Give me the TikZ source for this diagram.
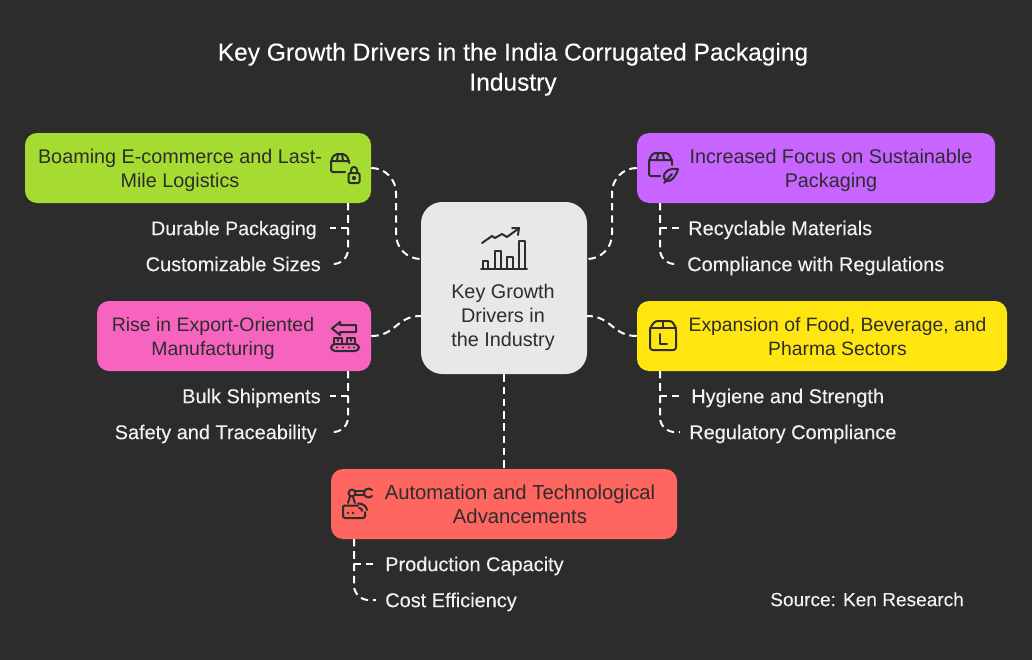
\documentclass[tikz,border=0pt]{standalone}
\usepackage{fontspec}
\setmainfont{Liberation Sans}
\newfontfamily\medfont[FakeBold=0.12]{Liberation Sans}
\definecolor{bg}{HTML}{2C2C2C}
\definecolor{ink}{HTML}{2D2D2D}
\definecolor{pale}{HTML}{F2F2F2}
\definecolor{cgreen}{HTML}{A6DC32}
\definecolor{cpurple}{HTML}{C864FF}
\definecolor{cpink}{HTML}{F764C0}
\definecolor{cyellow}{HTML}{FFE610}
\definecolor{cred}{HTML}{FF6660}
\definecolor{ccenter}{HTML}{E8E8E8}
\tikzset{
  sz/.style 2 args={minimum width=#1*0.75pt,minimum height=#2*0.75pt},
  card/.style={rectangle,rounded corners=9pt,inner sep=0pt},
  hub/.style={rectangle,rounded corners=16pt,inner sep=0pt,fill=ccenter},
  cardtext/.style={text=ink,align=center,inner sep=0pt,font=\fontsize{14.85}{18}\selectfont,text height=10.7pt,text depth=0pt},
  leaf/.style={text=pale,inner ysep=0pt,inner xsep=6.75pt,font=\medfont\fontsize{14.95}{18}\selectfont,text height=10.7pt,text depth=0pt},
  leafl/.style={leaf,anchor=east},
  leafr/.style={leaf,anchor=west},
  titletext/.style={text=white,align=center,inner sep=0pt,font=\medfont\fontsize{18.4}{22.5}\selectfont,text height=12.9pt,text depth=0pt},
  conn/.style={draw=white,line width=1.5pt,dash pattern=on 5.6pt off 3.6pt},
  trunk/.style={conn,rounded corners=11pt},
  ico/.style={draw=ink,line width=1.5pt,line cap=round,line join=round},
}
\begin{document}
\begin{tikzpicture}[x=0.75pt,y=-0.75pt]
\useasboundingbox[fill=bg] (0,0) rectangle (1032,660);
\node[titletext] (title) at (513,82) {Key Growth Drivers in the India Corrugated Packaging\\Industry};

\node[hub,sz={166}{172}] (hubnode) at (504,288) {};
\node[card,fill=cgreen,sz={346}{70}] (green) at (198,168) {};
\node[card,fill=cpurple,sz={358}{70}] (purple) at (816,168) {};
\node[card,fill=cpink,sz={274}{70}] (pink) at (234,336) {};
\node[card,fill=cyellow,sz={370}{70}] (yellow) at (822,336) {};
\node[card,fill=cred,sz={346}{70}] (red) at (504,504) {};

\node[cardtext] (hubt) at (503,339) {Key Growth\\Drivers in\\the Industry};
\node[cardtext] (greent) at (180,180) {Boaming E-commerce and Last-\\Mile Logistics};
\node[cardtext] (purplet) at (831,180) {Increased Focus on Sustainable\\Packaging};
\node[cardtext,font=\fontsize{14.6}{18}\selectfont] (pinkt) at (213,348) {Rise in Export-Oriented\\Manufacturing};
\node[cardtext,font=\fontsize{14.5}{18}\selectfont] (yellowt) at (837.5,348) {Expansion of Food, Beverage, and\\Pharma Sectors};
\node[cardtext,font=\fontsize{15.2}{18}\selectfont] (redt) at (520,516) {Automation and Technological\\Advancements};

\node[leafl,inner xsep=9.75pt,font=\medfont\fontsize{14.7}{18}\selectfont] (l1) at (330,228) {Durable Packaging};
\node[leafl] (l2) at (330,264) {Customizable Sizes};
\node[leafl] (l3) at (330,396) {Bulk Shipments};
\node[leafl,inner xsep=9.75pt] (l4) at (330,432) {Safety and Traceability};
\node[leafr] (r1) at (679,228) {Recyclable Materials};
\node[leafr] (r2) at (678,264) {Compliance with Regulations};
\node[leafr] (r3) at (682,396) {Hygiene and Strength};
\node[leafr] (r4) at (680,432) {Regulatory Compliance};
\node[leafr] (b1) at (376,564) {Production Capacity};
\node[leafr] (b2) at (376,600) {Cost Efficiency};
\node[leafr,inner xsep=0pt,font=\medfont\fontsize{14.3}{18}\selectfont] (source) at (770,599) {Source: Ken Research};

\coordinate (hgl) at (421,259);
\coordinate (hgr) at (587,259);
\coordinate (hpl) at (421,316);
\coordinate (hpr) at (587,316);
\coordinate (tgreen) at (348,203);
\coordinate (tpink) at (348,371);
\coordinate (tpurple) at (660,203);
\coordinate (tyellow) at (660,371);
\coordinate (tred) at (354,539);

\draw[conn] (green.east) .. controls (385,168) and (396,179) .. (396,193) -- (396,234) .. controls (396,248) and (407,259) .. (hgl);
\draw[conn] (purple.west) .. controls (623,168) and (612,179) .. (612,193) -- (612,234) .. controls (612,248) and (601,259) .. (hgr);
\draw[conn] (pink.east) .. controls (396,336) and (396,316) .. (hpl);
\draw[conn] (yellow.west) .. controls (612,336) and (612,316) .. (hpr);
\draw[conn] (hubnode.south) -- (red.north);

\draw[conn] (tgreen) |- (l1.east);
\draw[trunk] (tgreen) |- (l2.east);
\draw[conn] (tpink) |- (l3.east);
\draw[trunk] (tpink) |- (l4.east);
\draw[conn] (tpurple) |- (r1.west);
\draw[trunk] (tpurple) |- (r2.west);
\draw[conn] (tyellow) |- (r3.west);
\draw[trunk] (tyellow) |- (r4.west);
\draw[conn] (tred) |- (b1.west);
\draw[trunk] (tred) |- (b2.west);

% hub chart
\draw[ico] (481,269) -- (527,269);
\draw[ico] (483,269) -- (483,261) -- (488,261) -- (488,269);
\draw[ico] (495,269) -- (495,251) -- (501,251) -- (501,269);
\draw[ico] (507,269) -- (507,257) -- (513,257) -- (513,269);
\draw[ico] (519,269) -- (519,241) -- (525,241) -- (525,269);
\draw[ico] (482,243) -- (492,236) -- (495,238) -- (502,234) -- (507,237) -- (518,229);
\draw[ico] (512,228) -- (519,228) -- (518,235);

% green icon: box + lock
\draw[ico,rounded corners=1.5pt] (349,163) -- (349,160) -- (345,154) -- (335,154) -- (331,160) -- (331,172) -- (345,172);
\draw[ico] (331,161) -- (349,161) (338,154) -- (337,161) (342,154) -- (343,161);
\draw[ico,rounded corners=1pt] (348.5,173) rectangle (359.5,183);
\draw[ico] (351,173) -- (351,170) .. controls (351,166) and (357,166) .. (357,170) -- (357,173);
\fill[ink] (354,178) circle[radius=1.6pt];

% purple icon: box + leaf
\draw[ico,rounded corners=1.5pt] (672,165) -- (672,160) -- (668,153) -- (653,153) -- (649,160) -- (649,176) -- (660,176);
\draw[ico] (649,160) -- (672,160) (658,153) -- (657,160) (663,153) -- (664,160);
\draw[ico] (678,169) .. controls (670,168) and (663,171) .. (664,178) .. controls (665,183) and (674,183) .. (678,169);
\draw[ico] (672,174) -- (664,183);

% yellow icon: box + L
\draw[ico,rounded corners=2pt] (650,328) -- (655,321) -- (672,321) -- (676,328) -- (676,350) -- (650,350) -- cycle;
\draw[ico] (650,328) -- (676,328) (663,321) -- (663,328);
\draw[ico] (660,334) -- (660,344) -- (667,344);

% pink icon: arrow + conveyor
\draw[ico] (356,325) -- (340,325) -- (340,322) -- (332,328.5) -- (340,335) -- (340,332) -- (356,332) -- cycle;
\draw[ico] (334,344) -- (334,338) -- (342,338) -- (342,344) (347,344) -- (347,338) -- (355,338) -- (355,344);
\draw[ico] (338,338) -- (338,341) (351,338) -- (351,341);
\draw[ico,rounded corners=3pt] (331,344) rectangle (359,351);
\foreach \dx in {337,343,349,354}{\fill[ink] (\dx,347.5) circle[radius=0.9pt];}

% red icon: robot arm + router
\draw[ico,rounded corners=1.5pt] (358,505.5) -- (343,505.5) -- (343,518) -- (365,518) -- (365,512);
\fill[ink] (348,513) circle[radius=1.1pt] (353,513) circle[radius=1.1pt];
\draw[ico] (359,508) .. controls (361,508) and (362,509) .. (362,511);
\draw[ico] (358,503.5) .. controls (363,503) and (367,507) .. (367,510);
\draw[ico] (348,503) -- (350,496.5);
\draw[ico] (355,503) -- (353,497);
\draw[ico] (352,493) circle[radius=2.6pt];
\draw[ico] (355,491) -- (364,491) (355,495) -- (364,495);
\draw[ico] (372,490) .. controls (369,487) and (364,489) .. (364,493) .. controls (364,497) and (369,499) .. (372,496);
\end{tikzpicture}
\end{document}
